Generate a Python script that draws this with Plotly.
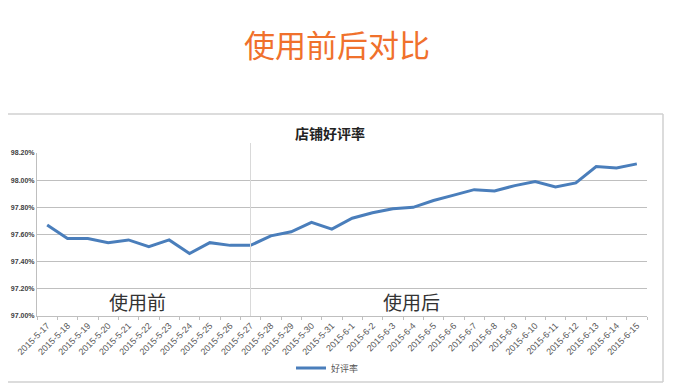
import plotly.graph_objects as go

dates = ["2015-5-17", "2015-5-18", "2015-5-19", "2015-5-20", "2015-5-21", "2015-5-22",
         "2015-5-23", "2015-5-24", "2015-5-25", "2015-5-26", "2015-5-27", "2015-5-28",
         "2015-5-29", "2015-5-30", "2015-5-31", "2015-6-1", "2015-6-2", "2015-6-3",
         "2015-6-4", "2015-6-5", "2015-6-6", "2015-6-7", "2015-6-8", "2015-6-9",
         "2015-6-10", "2015-6-11", "2015-6-12", "2015-6-13", "2015-6-14", "2015-6-15"]
rate = [97.67, 97.57, 97.57, 97.54, 97.56, 97.51, 97.56, 97.46, 97.54, 97.52,
        97.52, 97.59, 97.62, 97.69, 97.64, 97.72, 97.76, 97.79, 97.80, 97.85,
        97.89, 97.93, 97.92, 97.96, 97.99, 97.95, 97.98, 98.10, 98.09, 98.12]
y_ticks = [97.00, 97.20, 97.40, 97.60, 97.80, 98.00, 98.20]
split_date = "2015-5-27"
series_name = "好评率"

CJK = "Noto Sans CJK SC"

fig = go.Figure()
fig.add_trace(go.Scatter(
    x=dates, y=rate, mode="lines", name=series_name,
    line=dict(color="#4A7EBB", width=3),
))

OFF = 8  # page body margin
W, H = 665, 384
# plot area in page pixels: x 37..647, y 153..316
L = 37 - OFF
T = 153 - OFF
R = W - (647 - OFF)
B = H - (316 - OFF)
pw = W - L - R
ph = H - T - B

def px(x):
    return (x - OFF - L) / pw

def py(y):
    return (H - B - (y - OFF)) / ph

frame = dict(color="#D0D0D0", width=1.5)
shapes = [
    dict(type="line", xref="paper", yref="paper", x0=px(OFF), x1=px(663),
         y0=py(114), y1=py(114), line=frame, layer="below"),
    dict(type="line", xref="paper", yref="paper", x0=px(OFF), x1=px(663),
         y0=py(382), y1=py(382), line=frame, layer="below"),
    dict(type="line", xref="paper", yref="paper", x0=px(663), x1=px(663),
         y0=py(114), y1=py(382), line=frame, layer="below"),
    dict(type="line", xref="x", yref="paper", x0=split_date, x1=split_date,
         y0=0, y1=py(143), line=dict(color="#D9D9D9", width=1)),
]

annotations = [
    dict(text="<b>店铺好评率</b>", xref="paper", yref="paper", x=px(330), y=py(133),
         showarrow=False, font=dict(family=CJK, size=14, color="#222222"),
         xanchor="center", yanchor="middle"),
    dict(text="使用前", xref="paper", yref="paper", x=px(137), y=py(301),
         showarrow=False, font=dict(family=CJK, size=19, color="#333333"),
         xanchor="center", yanchor="middle"),
    dict(text="使用后", xref="paper", yref="paper", x=px(411), y=py(301),
         showarrow=False, font=dict(family=CJK, size=19, color="#333333"),
         xanchor="center", yanchor="middle"),
]

fig.update_layout(
    width=W, height=H,
    margin=dict(l=L, r=R, t=T, b=B, autoexpand=False),
    paper_bgcolor="white", plot_bgcolor="white",
    title=dict(text="使用前后对比", x=(337 - OFF) / W, y=1 - (46 - OFF) / H,
               xanchor="center", yanchor="middle", xref="container", yref="container",
               font=dict(family=CJK, size=31, color="#F0712C")),
    showlegend=True,
    legend=dict(orientation="h", x=px(291), y=py(368), xanchor="left", yanchor="middle",
                font=dict(family=CJK, size=9, color="#555555"),
                itemwidth=30, bgcolor="rgba(0,0,0,0)"),
    shapes=shapes,
    annotations=annotations,
    xaxis=dict(
        type="category", range=[-0.5, len(dates) - 0.5], automargin=False,
        tickangle=-45, tickfont=dict(family="Liberation Sans", size=9, color="#595959"),
        showgrid=False, showline=True, linecolor="#BFBFBF", linewidth=1,
        ticks="outside", ticklen=3, tickcolor="#BFBFBF", tickson="boundaries",
        fixedrange=True,
    ),
    yaxis=dict(
        range=[97.0, 98.2], tickvals=y_ticks, automargin=False,
        ticktext=[f"{v:.2f}%" for v in y_ticks],
        tickfont=dict(family="Liberation Sans", size=7, color="#404040", weight="bold"),
        showgrid=True, gridcolor="#BFBFBF", gridwidth=1,
        showline=True, linecolor="#BFBFBF", linewidth=1,
        zeroline=False, ticks="", fixedrange=True,
    ),
)

fig.write_html("out.html")
